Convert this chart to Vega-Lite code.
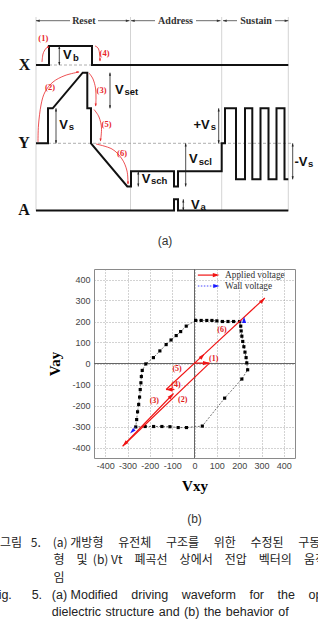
{
  "$schema": "https://vega.github.io/schema/vega-lite/v6.json",
  "padding": 0,
  "spacing": 0,
  "background": "#ffffff",
  "config": {"view": {"stroke": null}},
  "datasets": {
    "vlines": [{"t":0,"v":194,"v2":0},{"t":94.5,"v":194,"v2":0},{"t":185.7,"v":194,"v2":0},{"t":252.3,"v":194,"v2":0}],
    "dashes": [{"t":13,"t2":56,"v":146},{"t":12,"t2":256.7,"v":67.7}],
    "spans": [{"t":0,"t2":34,"v":190.3},{"t":62,"t2":93.5,"v":190.3},{"t":95,"t2":119,"v":190.3},{"t":160,"t2":184.5,"v":190.3},{"t":187,"t2":201,"v":190.3},{"t":239,"t2":252.3,"v":190.3}],
    "spanheads": [{"t":1.8,"v":190.3,"dir":"left"},{"t":91.7,"v":190.3,"dir":"right"},{"t":96.8,"v":190.3,"dir":"left"},{"t":182.7,"v":190.3,"dir":"right"},{"t":188.8,"v":190.3,"dir":"left"},{"t":250.5,"v":190.3,"dir":"right"}],
    "phases": [{"t":47.8,"v":190.3,"label":"Reset"},{"t":139.5,"v":190.3,"label":"Address"},{"t":220,"v":190.3,"label":"Sustain"}],
    "wave": [
      {"sig":"X","i":0,"t":0,"v":146},{"sig":"X","i":1,"t":13,"v":146},{"sig":"X","i":2,"t":13,"v":165},{"sig":"X","i":3,"t":56,"v":165},{"sig":"X","i":4,"t":56,"v":146},{"sig":"X","i":5,"t":252.3,"v":146},
      {"sig":"Y","i":0,"t":0,"v":67.7},{"sig":"Y","i":1,"t":12,"v":67.7},{"sig":"Y","i":2,"t":12,"v":102.7},{"sig":"Y","i":3,"t":16.7,"v":102.7},{"sig":"Y","i":4,"t":46.7,"v":138.3},{"sig":"Y","i":5,"t":51.3,"v":138.3},{"sig":"Y","i":6,"t":51.3,"v":102.7},{"sig":"Y","i":7,"t":55,"v":102.7},{"sig":"Y","i":8,"t":55,"v":67.7},{"sig":"Y","i":9,"t":91.3,"v":24.5},{"sig":"Y","i":10,"t":95,"v":24.5},{"sig":"Y","i":11,"t":95,"v":39.7},{"sig":"Y","i":12,"t":138,"v":39.7},{"sig":"Y","i":13,"t":138,"v":24.5},{"sig":"Y","i":14,"t":142,"v":24.5},{"sig":"Y","i":15,"t":142,"v":39.7},{"sig":"Y","i":16,"t":185.7,"v":39.7},{"sig":"Y","i":17,"t":185.7,"v":67.7},{"sig":"Y","i":18,"t":189,"v":67.7},{"sig":"Y","i":19,"t":189,"v":102.7},{"sig":"Y","i":20,"t":200,"v":102.7},{"sig":"Y","i":21,"t":200,"v":31.7},{"sig":"Y","i":22,"t":209,"v":31.7},{"sig":"Y","i":23,"t":209,"v":102.7},{"sig":"Y","i":24,"t":216.3,"v":102.7},{"sig":"Y","i":25,"t":216.3,"v":31.7},{"sig":"Y","i":26,"t":224.5,"v":31.7},{"sig":"Y","i":27,"t":224.5,"v":102.7},{"sig":"Y","i":28,"t":232.5,"v":102.7},{"sig":"Y","i":29,"t":232.5,"v":31.7},{"sig":"Y","i":30,"t":240.5,"v":31.7},{"sig":"Y","i":31,"t":240.5,"v":102.7},{"sig":"Y","i":32,"t":248.5,"v":102.7},{"sig":"Y","i":33,"t":248.5,"v":31.7},{"sig":"Y","i":34,"t":252.3,"v":31.7},
      {"sig":"A","i":0,"t":0,"v":0.5},{"sig":"A","i":1,"t":138,"v":0.5},{"sig":"A","i":2,"t":138,"v":11.7},{"sig":"A","i":3,"t":142,"v":11.7},{"sig":"A","i":4,"t":142,"v":0.5},{"sig":"A","i":5,"t":252.3,"v":0.5}
    ],
    "dims": [{"t":23.3,"v":165,"v2":146},{"t":74,"v":138.3,"v2":102.7},{"t":20,"v":102.7,"v2":67.7},{"t":182.7,"v":102.7,"v2":67.7},{"t":149.7,"v":67.7,"v2":24.5},{"t":256.7,"v":67.7,"v2":31.7},{"t":102.3,"v":39.7,"v2":24.5},{"t":147.3,"v":11.7,"v2":0.5}],
    "dimheads": [{"t":23.3,"v":163.5,"dir":"up"},{"t":23.3,"v":147.5,"dir":"down"},{"t":74,"v":136.8,"dir":"up"},{"t":74,"v":104.2,"dir":"down"},{"t":20,"v":101.2,"dir":"up"},{"t":20,"v":69.2,"dir":"down"},{"t":182.7,"v":101.2,"dir":"up"},{"t":182.7,"v":69.2,"dir":"down"},{"t":149.7,"v":66.2,"dir":"up"},{"t":149.7,"v":26,"dir":"down"},{"t":256.7,"v":66.2,"dir":"up"},{"t":256.7,"v":33.2,"dir":"down"},{"t":102.3,"v":38.2,"dir":"up"},{"t":102.3,"v":26,"dir":"down"},{"t":147.3,"v":10.2,"dir":"up"},{"t":147.3,"v":2,"dir":"down"}],
    "vmain": [{"t":27,"v":156,"label":"V"},{"t":79,"v":121.5,"label":"V"},{"t":23.3,"v":86.3,"label":"V"},{"t":157.5,"v":86.5,"label":"+V"},{"t":153,"v":52,"label":"V"},{"t":258.5,"v":49.3,"label":"-V"},{"t":105.7,"v":32.5,"label":"V"},{"t":155,"v":6,"label":"V"}],
    "vsub": [{"t":37,"v":153,"label":"b"},{"t":88.5,"v":119.5,"label":"set"},{"t":32.8,"v":84,"label":"s"},{"t":174.8,"v":84,"label":"s"},{"t":162.8,"v":49.5,"label":"scl"},{"t":272,"v":47,"label":"s"},{"t":115,"v":30,"label":"sch"},{"t":164.5,"v":4,"label":"a"}],
    "chan": [{"t":-11.5,"v":146,"label":"X"},{"t":-12,"v":68,"label":"Y"},{"t":-12,"v":1,"label":"A"}],
    "arcs": [
      {"arc":1,"i":0,"t":6,"v":149},{"arc":1,"i":1,"t":7,"v":157},{"arc":1,"i":2,"t":9.5,"v":162},{"arc":1,"i":3,"t":12,"v":164.5},
      {"arc":4,"i":0,"t":59,"v":165},{"arc":4,"i":1,"t":62,"v":163},{"arc":4,"i":2,"t":63.5,"v":158},{"arc":4,"i":3,"t":64,"v":150},
      {"arc":2,"i":0,"t":2,"v":69},{"arc":2,"i":1,"t":2.5,"v":86},{"arc":2,"i":2,"t":5,"v":106},{"arc":2,"i":3,"t":9,"v":119},{"arc":2,"i":4,"t":17,"v":129},{"arc":2,"i":5,"t":29,"v":135.5},{"arc":2,"i":6,"t":43,"v":139},
      {"arc":3,"i":0,"t":53,"v":138},{"arc":3,"i":1,"t":57,"v":132},{"arc":3,"i":2,"t":59.5,"v":123},{"arc":3,"i":3,"t":60,"v":113},{"arc":3,"i":4,"t":59.7,"v":105},
      {"arc":5,"i":0,"t":58,"v":101.5},{"arc":5,"i":1,"t":63,"v":94},{"arc":5,"i":2,"t":65.5,"v":83},{"arc":5,"i":3,"t":64.5,"v":70},
      {"arc":6,"i":0,"t":60,"v":67},{"arc":6,"i":1,"t":76,"v":62},{"arc":6,"i":2,"t":86,"v":52},{"arc":6,"i":3,"t":91,"v":40},{"arc":6,"i":4,"t":92,"v":27}
    ],
    "archeads": [{"t":12,"v":164.5,"dir":"up"},{"t":64,"v":151,"dir":"down"},{"t":42,"v":139,"dir":"right"},{"t":59.7,"v":106,"dir":"down"},{"t":64.5,"v":71,"dir":"down"},{"t":92,"v":28,"dir":"down"}],
    "steps": [{"t":7.3,"v":173,"label":"(1)"},{"t":14,"v":124,"label":"(2)"},{"t":65.5,"v":121,"label":"(3)"},{"t":68.5,"v":158,"label":"(4)"},{"t":70.5,"v":87,"label":"(5)"},{"t":86,"v":58.5,"label":"(6)"}],
    "tagA": [{"t":129,"v":-30,"label":"(a)"}],
    "axes0": [{"x":-450,"y":0,"x2":450,"y2":0},{"x":0,"y":-450,"x2":0,"y2":450}],
    "loop": [
      {"i":0,"x":5,"y":205},{"i":1,"x":30,"y":205},{"i":2,"x":55,"y":205},{"i":3,"x":78,"y":205},{"i":4,"x":100,"y":203},{"i":5,"x":125,"y":200},{"i":6,"x":150,"y":200},{"i":7,"x":175,"y":200},{"i":8,"x":202,"y":200},
      {"i":9,"x":207,"y":178},{"i":10,"x":209,"y":155},{"i":11,"x":212,"y":130},{"i":12,"x":216,"y":105},{"i":13,"x":221,"y":80},{"i":14,"x":226,"y":54},{"i":15,"x":231,"y":28},{"i":16,"x":234,"y":3},{"i":17,"x":238,"y":-30},
      {"i":18,"x":212,"y":-74},{"i":19,"x":135,"y":-165},{"i":20,"x":35,"y":-298},
      {"i":21,"x":-36,"y":-305},{"i":22,"x":-73,"y":-305},{"i":23,"x":-110,"y":-301},{"i":24,"x":-146,"y":-300},{"i":25,"x":-183,"y":-300},{"i":26,"x":-221,"y":-300},{"i":27,"x":-263,"y":-302},
      {"i":28,"x":-259,"y":-267},{"i":29,"x":-255,"y":-230},{"i":30,"x":-250,"y":-195},{"i":31,"x":-246,"y":-160},{"i":32,"x":-243,"y":-124},{"i":33,"x":-240,"y":-92},{"i":34,"x":-238,"y":-62},{"i":35,"x":-234,"y":-33},{"i":36,"x":-218,"y":-2},
      {"i":37,"x":-184,"y":28},{"i":38,"x":-155,"y":60},{"i":39,"x":-127,"y":90},{"i":40,"x":-105,"y":112},{"i":41,"x":-82,"y":133},{"i":42,"x":-62,"y":152},{"i":43,"x":-37,"y":178},{"i":44,"x":5,"y":205}
    ],
    "applied": [{"x":0,"y":2,"x2":67,"y2":2},{"x":67,"y":2,"x2":-322,"y2":-394},{"x":-312,"y":-383,"x2":-94,"y2":-143},{"x":-90,"y":-124,"x2":-127,"y2":-124},{"x":-127,"y":-124,"x2":45,"y2":46},{"x":45,"y":46,"x2":315,"y2":312},{"x":15,"y":421,"x2":100,"y2":421}],
    "appliedheads": [{"x":53,"y":2,"dir":"right"},{"x":-311,"y":-382,"dir":"downleft"},{"x":-105,"y":-155,"dir":"upright"},{"x":-113,"y":-124,"dir":"left"},{"x":34,"y":34,"dir":"upright"},{"x":304,"y":300,"dir":"upright"},{"x":97,"y":421,"dir":"right"}],
    "wall": [{"x":-263,"y":-302,"x2":-280,"y2":-322},{"x":205,"y":198,"x2":222,"y2":210},{"x":15,"y":369,"x2":88,"y2":369}],
    "wallheads": [{"x":-278,"y":-322,"dir":"downleft"},{"x":222,"y":208,"dir":"up"},{"x":98,"y":369,"dir":"right"}],
    "vlabels": [{"x":123,"y":159,"label":"(6)"},{"x":-78,"y":-28,"label":"(5)"},{"x":86,"y":20,"label":"(1)"},{"x":-83,"y":-104,"label":"(4)"},{"x":-180,"y":-179,"label":"(3)"},{"x":-53,"y":-175,"label":"(2)"}],
    "legend": [{"x":137,"y":421,"label":"Applied voltage"},{"x":137,"y":369,"label":"Wall voltage"}],
    "caption": [
      {"line":1,"lang":"ko","text":"그림\u2002\u00a05.\u2003(a) 개방형\u2003\u00a0유전체\u2003\u00a0구조를\u2003\u00a0위한\u2003\u00a0수정된\u2003\u00a0구동파"},
      {"line":2,"lang":"ko","text":"\u200b\u2003\u2003\u2003\u2003\u00a0\u00a0형\u2003및\u00a0\u00a0(b)\u00a0Vt\u2003폐곡선\u2003상에서\u2003전압\u2003벡터의\u2003움직"},
      {"line":3,"lang":"ko","text":"\u200b\u2003\u2003\u2003\u2003\u00a0\u00a0임"},
      {"line":4,"lang":"en","text":"Fig.\u2003\u2002\u200a5.\u2002\u00a0(a) Modified\u2003\u200adriving\u2003\u200awaveform\u2003\u200afor\u2003\u200athe\u2003\u200aopen"},
      {"line":5,"lang":"en","text":"\u200b\u2003\u2003\u2003\u2003\u2002\u00a0\u200adielectric\u00a0\u200astructure\u00a0\u200aand\u00a0\u200a(b)\u00a0\u200athe\u00a0\u200abehavior\u00a0\u200aof"}
    ]
  },
  "vconcat": [
    {
      "width": 318,
      "height": 268,
      "encoding": {
        "x": {"field": "t", "type": "quantitative", "scale": {"domain": [-36, 282], "nice": false, "zero": false}, "axis": null},
        "y": {"field": "v", "type": "quantitative", "scale": {"domain": [-57, 211], "nice": false, "zero": false}, "axis": null}
      },
      "layer": [
        {"data": {"name": "vlines"}, "mark": {"type": "rule", "color": "#c8c8c8", "strokeWidth": 0.8}, "encoding": {"y2": {"field": "v2"}}},
        {"data": {"name": "dashes"}, "mark": {"type": "rule", "color": "#9a9a9a", "strokeWidth": 0.8, "strokeDash": [3, 2]}, "encoding": {"x2": {"field": "t2"}}},
        {"data": {"name": "spans"}, "mark": {"type": "rule", "color": "#444444", "strokeWidth": 0.8}, "encoding": {"x2": {"field": "t2"}}},
        {"data": {"name": "spanheads"}, "mark": {"type": "point", "filled": true, "opacity": 1, "size": 14, "color": "#333333", "strokeWidth": 0},
          "encoding": {"shape": {"field": "dir", "type": "nominal", "legend": null, "scale": {"domain": ["up","down","left","right","upright","downleft"], "range": ["M0,-1L0.65,1L-0.65,1Z","M0,1L0.65,-1L-0.65,-1Z","M-1,0L1,-0.65L1,0.65Z","M1,0L-1,-0.65L-1,0.65Z","M0.75,-0.75L-0.2,1L-1,0.2Z","M-0.75,0.75L0.2,-1L1,-0.2Z"]}}}},
        {"data": {"name": "phases"}, "mark": {"type": "text", "font": "Liberation Serif", "fontWeight": "bold", "fontSize": 10, "color": "#333333", "baseline": "middle", "align": "center"}, "encoding": {"text": {"field": "label"}}},
        {"data": {"name": "wave"}, "mark": {"type": "line", "color": "#111111", "strokeWidth": 2, "strokeJoin": "miter"}, "encoding": {"detail": {"field": "sig"}, "order": {"field": "i", "type": "quantitative"}}},
        {"data": {"name": "dims"}, "mark": {"type": "rule", "color": "#222222", "strokeWidth": 0.8}, "encoding": {"y2": {"field": "v2"}}},
        {"data": {"name": "dimheads"}, "mark": {"type": "point", "filled": true, "opacity": 1, "size": 10, "color": "#222222", "strokeWidth": 0},
          "encoding": {"shape": {"field": "dir", "type": "nominal", "legend": null}}},
        {"data": {"name": "vmain"}, "mark": {"type": "text", "font": "Liberation Sans", "fontWeight": "bold", "fontSize": 13, "color": "#111111", "baseline": "middle", "align": "left"}, "encoding": {"text": {"field": "label"}}},
        {"data": {"name": "vsub"}, "mark": {"type": "text", "font": "Liberation Sans", "fontWeight": "bold", "fontSize": 9.5, "color": "#111111", "baseline": "middle", "align": "left"}, "encoding": {"text": {"field": "label"}}},
        {"data": {"name": "chan"}, "mark": {"type": "text", "font": "Liberation Serif", "fontWeight": "bold", "fontSize": 16, "color": "#111111", "baseline": "middle", "align": "center"}, "encoding": {"text": {"field": "label"}}},
        {"data": {"name": "arcs"}, "mark": {"type": "line", "color": "#e8262a", "strokeWidth": 0.8, "interpolate": "cardinal"}, "encoding": {"detail": {"field": "arc"}, "order": {"field": "i", "type": "quantitative"}}},
        {"data": {"name": "archeads"}, "mark": {"type": "point", "filled": true, "opacity": 1, "size": 10, "color": "#e8262a", "strokeWidth": 0},
          "encoding": {"shape": {"field": "dir", "type": "nominal", "legend": null}}},
        {"data": {"name": "steps"}, "mark": {"type": "text", "font": "Liberation Serif", "fontWeight": "bold", "fontSize": 8.5, "color": "#e8262a", "baseline": "middle", "align": "center"}, "encoding": {"text": {"field": "label"}}},
        {"data": {"name": "tagA"}, "mark": {"type": "text", "font": "Liberation Sans", "fontSize": 12, "color": "#333333", "baseline": "middle", "align": "center"}, "encoding": {"text": {"field": "label"}}}
      ]
    },
    {
      "spacing": 0,
      "hconcat": [
        {"width": 47, "height": 10, "data": {"values": [{"k": 1}]}, "mark": {"type": "point", "opacity": 0}, "encoding": {}},
        {
          "width": 201,
          "height": 189,
          "view": {"stroke": "#8a8a8a", "strokeWidth": 1},
          "title": {"text": "(b)", "orient": "bottom", "offset": 21, "font": "Liberation Sans", "fontSize": 12, "fontWeight": "normal", "color": "#333333"},
          "encoding": {
            "x": {"field": "x", "type": "quantitative", "scale": {"domain": [-450, 450], "nice": false, "zero": false},
              "axis": {"values": [-400,-300,-200,-100,0,100,200,300,400], "grid": true, "gridDash": [1, 2], "gridColor": "#8f8f8f", "gridWidth": 0.8, "domain": false, "ticks": false, "tickSize": 0, "labelOverlap": false, "labelFont": "Liberation Sans", "labelFontSize": 9, "labelColor": "#444444", "labelPadding": 3, "labelExpr": "'' + datum.value", "title": "Vxy", "titleFont": "Liberation Serif", "titleFontSize": 15, "titleFontWeight": "bold", "titleColor": "#000000", "titlePadding": 8}},
            "y": {"field": "y", "type": "quantitative", "scale": {"domain": [-450, 450], "nice": false, "zero": false},
              "axis": {"values": [-400,-300,-200,-100,0,100,200,300,400], "grid": true, "gridDash": [1, 2], "gridColor": "#8f8f8f", "gridWidth": 0.8, "domain": false, "ticks": false, "tickSize": 0, "labelOverlap": false, "labelFont": "Liberation Sans", "labelFontSize": 9, "labelColor": "#444444", "labelPadding": 4, "labelExpr": "'' + datum.value", "title": "Vay", "titleFont": "Liberation Serif", "titleFontSize": 15, "titleFontWeight": "bold", "titleColor": "#000000", "titlePadding": 9}}
          },
          "layer": [
            {"data": {"name": "axes0"}, "mark": {"type": "rule", "color": "#666666", "strokeWidth": 1}, "encoding": {"x2": {"field": "x2"}, "y2": {"field": "y2"}}},
            {"data": {"name": "loop"}, "mark": {"type": "line", "color": "#333333", "strokeWidth": 0.7, "strokeDash": [2, 1.5]}, "encoding": {"order": {"field": "i", "type": "quantitative"}}},
            {"data": {"name": "loop"}, "mark": {"type": "point", "shape": "square", "filled": true, "opacity": 1, "size": 10, "color": "#000000", "strokeWidth": 0}},
            {"data": {"name": "applied"}, "mark": {"type": "rule", "color": "#f01414", "strokeWidth": 1.2}, "encoding": {"x2": {"field": "x2"}, "y2": {"field": "y2"}}},
            {"data": {"name": "appliedheads"}, "mark": {"type": "point", "filled": true, "opacity": 1, "size": 45, "color": "#f01414", "strokeWidth": 0},
              "encoding": {"shape": {"field": "dir", "type": "nominal", "legend": null}}},
            {"data": {"name": "wall"}, "mark": {"type": "rule", "color": "#1a1aff", "strokeWidth": 0.8, "strokeDash": [1.5, 1.5]}, "encoding": {"x2": {"field": "x2"}, "y2": {"field": "y2"}}},
            {"data": {"name": "wallheads"}, "mark": {"type": "point", "filled": true, "opacity": 1, "size": 40, "color": "#1a1aff", "strokeWidth": 0},
              "encoding": {"shape": {"field": "dir", "type": "nominal", "legend": null}}},
            {"data": {"name": "vlabels"}, "mark": {"type": "text", "font": "Liberation Serif", "fontWeight": "bold", "fontSize": 8, "color": "#e01818", "baseline": "middle", "align": "center"}, "encoding": {"text": {"field": "label"}}},
            {"data": {"name": "legend"}, "mark": {"type": "text", "font": "Liberation Serif", "fontSize": 9.3, "color": "#333333", "baseline": "middle", "align": "left"}, "encoding": {"text": {"field": "label"}}}
          ]
        }
      ]
    },
    {
      "width": 318,
      "height": 110,
      "data": {"name": "caption"},
      "encoding": {
        "x": {"datum": 0, "type": "quantitative", "scale": {"domain": [0, 1]}, "axis": null},
        "y": {"field": "line", "type": "quantitative", "scale": {"domain": [0.017, 6.375], "reverse": true, "nice": false, "zero": false}, "axis": null},
        "text": {"field": "text"}
      },
      "layer": [
        {"transform": [{"filter": "datum.lang == 'ko'"}], "mark": {"type": "text", "align": "left", "baseline": "middle", "font": "Noto Sans CJK KR", "fontSize": 12, "color": "#222222", "clip": true}},
        {"transform": [{"filter": "datum.lang == 'en'"}], "mark": {"type": "text", "align": "left", "baseline": "middle", "font": "Liberation Sans", "fontSize": 12.5, "color": "#222222", "dx": -9, "clip": true}}
      ]
    }
  ]
}
